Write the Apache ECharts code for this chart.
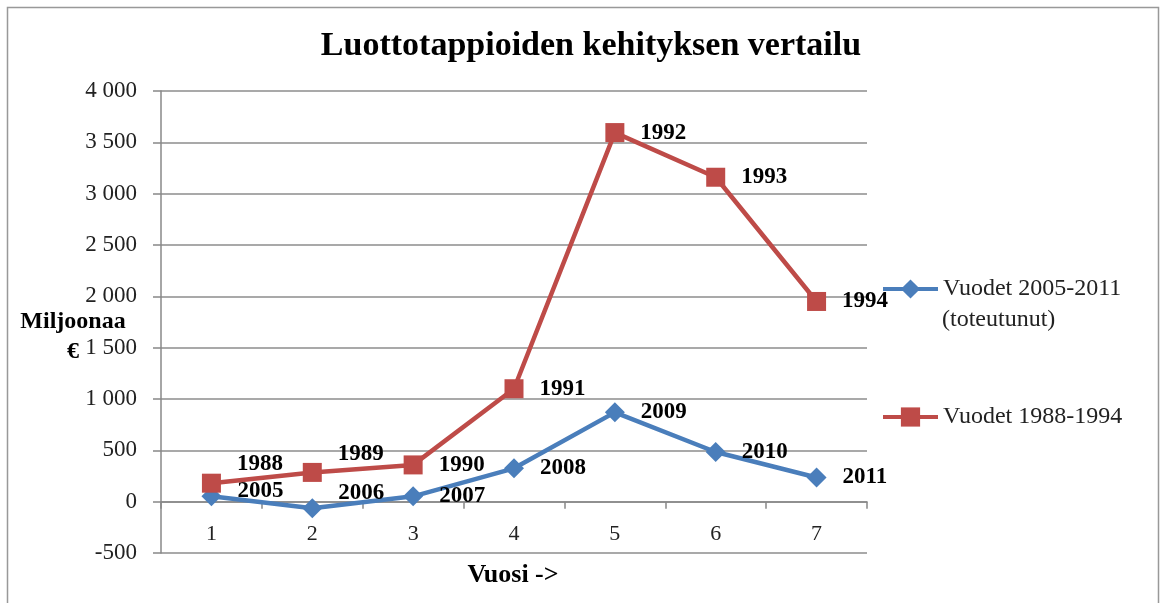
<!DOCTYPE html>
<html>
<head>
<meta charset="utf-8">
<script src="https://cdn.jsdelivr.net/npm/echarts@6/dist/echarts.min.js"></script>
<style>
html,body{margin:0;padding:0;background:#fff;}
#chart{width:1160px;height:603px;}
</style>
</head>
<body>
<div id="chart"></div>
<script>
// ---- data ----
var categories = ['1', '2', '3', '4', '5', '6', '7'];
var blueName = 'Vuodet 2005-2011\n(toteutunut)';
var blueValues = [52, -64, 52, 325, 870, 484, 235];
var blueYears = ['2005', '2006', '2007', '2008', '2009', '2010', '2011'];
var redName = 'Vuodet 1988-1994';
var redValues = [180, 285, 358, 1100, 3595, 3160, 1950];
var redYears = ['1988', '1989', '1990', '1991', '1992', '1993', '1994'];
var yTicks = { min: -500, max: 4000, interval: 500 };
var titleText = 'Luottotappioiden kehityksen vertailu';
var yName = 'Miljoonaa\n€';
var xName = 'Vuosi ->';

// ---- layout nudges for data labels (vertical pixel offsets) ----
var blueLabelDy = [-5, -15, 0, 0, 0, 0, 0];
var redLabelDy = [-19, -18, 0, 0, 0, 0, 0];

var SERIF = '"Liberation Serif", "DejaVu Serif", serif';
var BLUE = '#4A7EBB';
var RED = '#BE4B48';

function fmtThousands(v) {
  var s = String(Math.abs(v)).replace(/\B(?=(\d{3})+(?!\d))/g, ' ');
  return (v < 0 ? '-' : '') + s;
}

function buildData(values, years, dys) {
  return values.map(function (v, i) {
    return {
      value: v,
      year: years[i],
      label: { offset: [0, dys[i]] }
    };
  });
}

var chart = echarts.init(document.getElementById('chart'), null, { renderer: 'canvas' });

var labelBase = {
  show: true,
  position: 'right',
  distance: 16,
  fontFamily: SERIF,
  fontWeight: 'bold',
  fontSize: 23,
  color: '#000',
  formatter: function (p) { return p.data.year; }
};

var legendText = { fontFamily: SERIF, fontSize: 24, color: '#222' };

var option = {
  backgroundColor: '#fff',
  animation: false,
  title: {
    text: titleText,
    left: 586,
    top: 24,
    textAlign: 'center',
    textStyle: { fontFamily: SERIF, fontWeight: 'bold', fontSize: 34, color: '#000' }
  },
  grid: { left: 161, right: 293, top: 91, bottom: 50, containLabel: false },
  legend: [
    {
      data: [blueName],
      orient: 'vertical',
      left: 876,
      top: 272,
      itemWidth: 55,
      itemHeight: 24,
      lineStyle: { width: 4 },
      formatter: function (n) { return n.split('\n')[0]; },
      textStyle: legendText
    },
    {
      data: [redName],
      orient: 'vertical',
      left: 876,
      top: 400,
      itemWidth: 55,
      itemHeight: 24,
      lineStyle: { width: 4 },
      textStyle: legendText
    }
  ],
  xAxis: {
    type: 'category',
    data: categories,
    boundaryGap: true,
    axisLine: { onZero: true, lineStyle: { color: '#888', width: 1.5 } },
    axisTick: { show: true, length: 7, lineStyle: { color: '#888', width: 1.5 } },
    axisLabel: { margin: -30, fontFamily: SERIF, fontSize: 22, color: '#222' },
    splitLine: { show: false }
  },
  yAxis: {
    type: 'value',
    min: yTicks.min,
    max: yTicks.max,
    interval: yTicks.interval,
    axisLine: { show: true, lineStyle: { color: '#888', width: 1.5 } },
    axisTick: { show: true, length: 8, lineStyle: { color: '#888', width: 1.5 } },
    axisLabel: {
      margin: 24,
      fontFamily: SERIF,
      fontSize: 23,
      color: '#222',
      formatter: fmtThousands
    },
    splitLine: { show: true, lineStyle: { color: '#8c8c8c', width: 1.5 } }
  },
  series: [
    {
      name: blueName,
      type: 'line',
      data: buildData(blueValues, blueYears, blueLabelDy),
      symbol: 'diamond',
      symbolSize: 20,
      lineStyle: { color: BLUE, width: 4.5 },
      itemStyle: { color: BLUE },
      label: labelBase,
      z: 2
    },
    {
      name: redName,
      type: 'line',
      data: buildData(redValues, redYears, redLabelDy),
      symbol: 'rect',
      symbolSize: 19,
      lineStyle: { color: RED, width: 4.5 },
      itemStyle: { color: RED },
      label: labelBase,
      z: 3
    }
  ],
  graphic: [
    {
      type: 'polyline',
      shape: { points: [[7.5, 620], [7.5, 7.5], [1158.5, 7.5], [1158.5, 620]] },
      style: { stroke: '#999', lineWidth: 1.5, fill: null },
      silent: true,
      z: 0
    },
    {
      type: 'text',
      x: 73,
      y: 307,
      style: {
        text: yName,
        textAlign: 'center',
        textVerticalAlign: 'top',
        fontFamily: SERIF,
        fontWeight: 'bold',
        fontSize: 24,
        lineHeight: 30,
        fill: '#000'
      }
    },
    {
      type: 'text',
      x: 513,
      y: 575,
      style: {
        text: xName,
        textAlign: 'center',
        textVerticalAlign: 'middle',
        fontFamily: SERIF,
        fontWeight: 'bold',
        fontSize: 26,
        fill: '#000'
      }
    },
    {
      type: 'text',
      x: 942,
      y: 320,
      style: {
        text: blueName.split('\n')[1],
        textAlign: 'left',
        textVerticalAlign: 'middle',
        fontFamily: SERIF,
        fontSize: 24,
        fill: '#222'
      }
    }
  ]
};

chart.setOption(option);
</script>
</body>
</html>
